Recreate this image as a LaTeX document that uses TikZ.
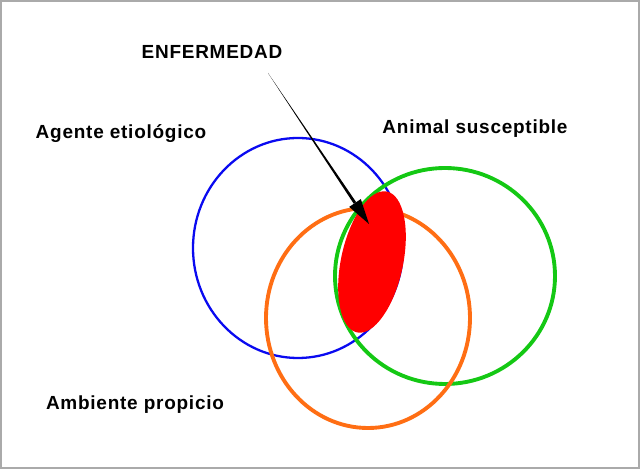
\documentclass[tikz,border=0pt]{standalone}
\usepackage{fontspec}
\setmainfont{Liberation Sans}[LetterSpace=4]
\usetikzlibrary{calc}
\definecolor{blueC}{RGB}{10,10,240}
\definecolor{greenC}{RGB}{20,200,20}
\definecolor{orangeC}{RGB}{255,110,20}
\definecolor{redC}{RGB}{255,0,0}
\definecolor{frameC}{RGB}{170,170,170}
\tikzset{
  lbl/.style={font=\fontsize{10.8}{12}\selectfont\bfseries, inner sep=0pt},
  ring/.style={line width=2.2pt}
}
\begin{document}
\begin{tikzpicture}[x=0.02cm,y=-0.02cm]
  \useasboundingbox (0,0) rectangle (640,469);
  \draw[frameC, line width=1pt] (1,1) rectangle (639,468);

  \node[lbl] (enf) at (212,52) {ENFERMEDAD};
  \node[lbl] (agente) at (121,134) {Agente etiológico};
  \node[lbl] (animal) at (475,129) {Animal susceptible};
  \node[lbl] (ambiente) at (135,405) {Ambiente propicio};

  % circulos
  \draw[blueC, line width=1.3pt] (298,248) ellipse [x radius=105, y radius=110];
  \draw[greenC, ring] (445,276) ellipse [x radius=110, y radius=108];
  \draw[orangeC, ring] (368,318) ellipse [x radius=102, y radius=110];
  \fill[redC] (372,262) ellipse [x radius=72, y radius=31, rotate=78];

  % flecha
  \coordinate (start) at (268,73);
  \coordinate (tip) at (369,224);
  \fill[black] (start) -- ($(tip)+(-12.8,-21.8)$) -- ($(tip)+(-15.2,-20.2)$) -- cycle;
  \fill[black] (tip) -- ($(tip)+(-8.2,-24.9)$) -- ($(tip)+(-19.8,-17.1)$) -- cycle;
\end{tikzpicture}
\end{document}
